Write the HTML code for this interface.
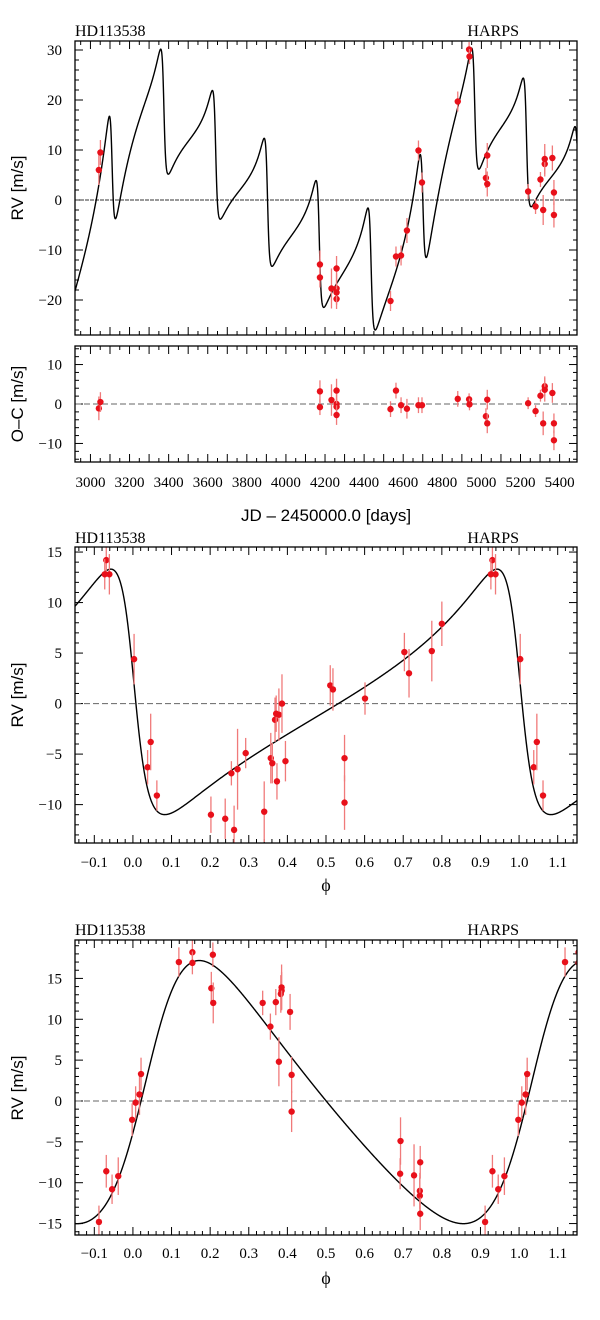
<!DOCTYPE html>
<html><head><meta charset="utf-8"><style>
html,body{margin:0;padding:0;background:#fff;}
svg text{font-family:"Liberation Serif",serif;}
.sans{font-family:"Liberation Sans",sans-serif !important;}
</style></head><body>
<svg id="chart" width="600" height="1315" viewBox="0 0 600 1315" xmlns="http://www.w3.org/2000/svg">
<defs>
<clipPath id="c1"><rect x="75" y="41" width="502" height="294"/></clipPath>
<clipPath id="c2"><rect x="75" y="346" width="502" height="116"/></clipPath>
<clipPath id="c3"><rect x="75" y="547" width="502" height="296"/></clipPath>
<clipPath id="c4"><rect x="75" y="940" width="502" height="295"/></clipPath>
</defs>
</svg>
<script>
// ---- time series data (top panel) ----
const TOP_JD = [3043,3051,4174,4174,4233,4259,4259,4259,4259,4535,4563,4589,4619,4678,4696,4879,4937,4939,5023,5030,5030,5239,5277,5302,5316,5324,5324,5363,5371,5371];
const TOP_RV = [6.0,9.5,-12.9,-15.5,-17.7,-17.7,-13.7,-19.8,-18.5,-20.2,-11.3,-11.1,-6.1,9.9,3.5,19.7,30.1,28.7,4.4,3.2,8.9,1.7,-1.3,4.1,-2.0,7.2,8.2,8.4,-3.0,1.5];
const TOP_ERR = [3,2.5,2.8,2,4,3,2.5,2,2.5,2,2,2,2.5,2,2,2,1.5,1.5,2,2.5,2.5,1.5,1.5,1.5,3,2.5,3,2.5,2.5,2.5];
const RES_OC = [-1.1,0.5,3.2,-0.8,1.0,3.4,0,-0.7,-2.8,-1.3,3.4,-0.3,-1.2,-0.3,-0.3,1.3,1.2,-0.1,-3.1,-4.9,1.1,0.2,-1.8,2.1,-4.9,4.5,3.6,2.8,-4.9,-9.2];
// ---- Keplerian model parameters (planet b, planet c) ----
const PLANET_P = [265, 1657];
const PLANET_K = [12.15, 16.1];
const PLANET_E = [0.61, 0.30];
const PLANET_W_DEG = [81, -77];
const PLANET_TP = [3110, 4764];
const PHASE_T0 = [3110, 4689];
// ---- phase-folded planet b ----
const B_PHASE = [-0.069,-0.073,-0.061,0.003,0.038,0.046,0.062,0.202,0.239,0.255,0.262,0.271,0.292,0.340,0.357,0.361,0.368,0.371,0.373,0.378,0.386,0.395,0.511,0.518,0.548,0.548,0.601,0.703,0.715,0.774,0.800];
const B_RV = [14.2,12.8,12.8,4.4,-6.3,-3.8,-9.1,-11.0,-11.4,-6.9,-12.5,-6.5,-4.9,-10.7,-5.4,-5.9,-1.6,-1.0,-7.7,-1.1,0,-5.7,1.8,1.4,-5.4,-9.8,0.5,5.1,3.0,5.2,7.9];
const B_ERR = [1.5,1.5,2,2.5,1.7,2.8,1.5,1.8,2,1.2,2.4,4,1.5,3,2.5,2,2.2,1.8,1.8,2.6,2.9,2,2,2.1,2.3,2.7,1.6,1.9,2.4,3,2.2];
// ---- phase-folded planet c ----
const C_PHASE = [-0.088,-0.069,-0.054,-0.038,-0.002,0.007,0.017,0.021,0.119,0.154,0.154,0.203,0.207,0.208,0.336,0.356,0.370,0.378,0.383,0.385,0.385,0.407,0.411,0.411,0.692,0.693,0.728,0.743,0.743,0.744,0.744];
const C_RV = [-14.8,-8.6,-10.8,-9.2,-2.3,-0.2,0.8,3.3,17.0,18.2,16.9,13.8,17.9,12.0,12.0,9.1,12.1,4.8,13.1,13.5,13.9,10.9,3.2,-1.3,-8.9,-4.9,-9.1,-11.0,-11.6,-7.5,-13.8];
const C_ERR = [2,2,1.8,2.3,2,2,2.5,2,1.8,1.5,1.4,2,1.5,2.5,1.5,1.6,1.6,3,2.3,2.3,2.8,2.2,2.2,2.5,1.9,2.9,3.8,2.2,2.2,2,2];

const NS = "http://www.w3.org/2000/svg";
const svg = document.getElementById('chart');
function mk(tag, attrs, parent){ const el=document.createElementNS(NS,tag); for(const k in attrs) el.setAttribute(k,attrs[k]); (parent||svg).appendChild(el); return el; }

function kepler(t, i){
  const P=PLANET_P[i], e=PLANET_E[i], K=PLANET_K[i], w=PLANET_W_DEG[i]*Math.PI/180;
  let M = 2*Math.PI*((t-PLANET_TP[i])/P); M = M - 2*Math.PI*Math.floor(M/(2*Math.PI));
  let E = M; for(let k=0;k<40;k++){ E = E - (E - e*Math.sin(E) - M)/(1 - e*Math.cos(E)); }
  const nu = 2*Math.atan2(Math.sqrt(1+e)*Math.sin(E/2), Math.sqrt(1-e)*Math.cos(E/2));
  return K*(Math.cos(nu+w) + e*Math.cos(w));
}

function panel(o){
  const g = mk('g',{});
  
  
  const sx = v => o.x0 + (v-o.xmin)/(o.xmax-o.xmin)*(o.x1-o.x0);
  const sy = v => o.y1 - (v-o.ymin)/(o.ymax-o.ymin)*(o.y1-o.y0);
  const ax = mk('g',{stroke:'#000','stroke-width':1},g);
  
  
  // x ticks
  const nx = Math.round((o.xmax-o.xmin)/o.xminor)+2;
  const xs = Math.ceil(o.xmin/o.xminor-1e-6);
  for(let k=xs;k<xs+nx;k++){
    const v=k*o.xminor; if(v>o.xmax+1e-9) break;
    const maj = Math.abs(v/o.xmajor - Math.round(v/o.xmajor))<1e-6;
    const L = maj?8:4, X=sx(v);
    mk('line',{x1:X,x2:X,y1:o.y1,y2:o.y1-L},ax); mk('line',{x1:X,x2:X,y1:o.y0,y2:o.y0+L},ax);
  }
  const ys = Math.ceil(o.ymin/o.yminor-1e-6);
  for(let k=ys;;k++){
    const v=k*o.yminor; if(v>o.ymax+1e-9) break;
    const maj = Math.abs(v/o.ymajor - Math.round(v/o.ymajor))<1e-6;
    const L = maj?8:4, Y=sy(v);
    mk('line',{x1:o.x0,x2:o.x0+L,y1:Y,y2:Y},ax); mk('line',{x1:o.x1,x2:o.x1-L,y1:Y,y2:Y},ax);
  }
  // y labels
  o.yLabels.forEach(v=>{
    const t=mk('text',{x:62,y:sy(v)+5,'text-anchor':'end','font-size':15},g);
    
    
    t.textContent = v<0? '\u2212'+Math.abs(v) : String(v);
  });
  if(o.xLabels){
    o.xLabels.forEach(v=>{
      const t=mk('text',{x:sx(v),y:o.xLabelY,'text-anchor':'middle','font-size':15},g);
      
      
      const s = o.xFmt? o.xFmt(v) : String(v);
      t.textContent = s;
    });
  }
  // zero line
  const z = mk('line',{x1:o.x0,x2:o.x1,y1:sy(0),y2:sy(0),stroke:o.zeroColor||'#666','stroke-width':1,'stroke-dasharray':o.zeroDash||'6,3'},g);
  
  
  // model
  if(o.model){
    let d='';
    for(let k=0;k<=o.samples;k++){
      const v = o.xmin + (o.xmax-o.xmin)*k/o.samples;
      d += (k?'L':'M')+sx(v).toFixed(2)+','+sy(o.model(v)).toFixed(2);
    }
    const p = mk('path',{d:d,fill:'none',stroke:'#000','stroke-width':1.4,'clip-path':o.clip},g);
    
    
  }
  // points
  const pg = mk('g',{'clip-path':o.clip},g);
  
  
  o.xs.forEach((xv,i)=>{
    const shifts = o.wrap? [-1,0,1] : [0];
    shifts.forEach(s=>{
      const v = xv+s; if(v<o.xmin-0.01||v>o.xmax+0.01) return;
      const X=sx(v), Y=sy(o.ys[i]);
      const eb = mk('line',{x1:X,x2:X,y1:sy(o.ys[i]+o.errs[i]),y2:sy(o.ys[i]-o.errs[i]),stroke:'#f07a7a','stroke-width':1.3},pg);
      
      
      const c = mk('circle',{cx:X,cy:Y,r:3.2,fill:'#e8101a'},pg);
      
      
    });
  });
  const fr = mk('rect',{x:o.x0,y:o.y0,width:o.x1-o.x0,height:o.y1-o.y0,fill:'none',stroke:'#000','stroke-width':1.3},g);
  
  
  // y title
  const yt = mk('text',{x:0,y:0,'text-anchor':'middle','font-size':17,class:'sans',transform:'translate('+(o.yTitleX||23)+','+o.yTitleY+') rotate(-90)'},g);
  
  
  yt.textContent = o.yTitle;
  if(o.title){
    const t1=mk('text',{x:75,y:o.titleY,'font-size':16},g);
    
    
    t1.textContent='HD113538';
    const t2=mk('text',{x:519,y:o.titleY,'text-anchor':'end','font-size':16},g);
    
    
    t2.textContent='HARPS';
  }
}
const phaseFmt = v => { const r=Math.round(v*10)/10; return (r<0?'\u2212':'')+Math.abs(r).toFixed(1); };

panel({name:'rv-time-panel',x0:75,x1:577,y0:41,y1:335,xmin:2921,xmax:5489,ymin:-27,ymax:31.8,
  xminor:50,xmajor:100,yminor:2,ymajor:10,yLabels:[-20,-10,0,10,20,30],
  model:t=>kepler(t,0)+kepler(t,1),samples:3000,clip:'url(#c1)',zeroColor:'#333',zeroDash:'4,1',
  xs:TOP_JD,ys:TOP_RV,errs:TOP_ERR,yTitle:'RV [m/s]',yTitleY:188,title:true,titleY:36});
panel({name:'residuals-panel',x0:75,x1:577,y0:346,y1:462,xmin:2921,xmax:5489,ymin:-14.7,ymax:14.7,
  xminor:50,xmajor:100,yminor:2,ymajor:10,yLabels:[-10,0,10],xLabels:[3000,3200,3400,3600,3800,4000,4200,4400,4600,4800,5000,5200,5400],xLabelY:487,
  clip:'url(#c2)',xs:TOP_JD,ys:RES_OC,errs:TOP_ERR,yTitle:'O\u2013C [m/s]',yTitleY:404});
panel({name:'phase-b-panel',x0:75,x1:577,y0:547,y1:843,xmin:-0.15,xmax:1.15,ymin:-13.8,ymax:15.5,
  xminor:0.02,xmajor:0.1,yminor:1,ymajor:5,yLabels:[-10,-5,0,5,10,15],
  xLabels:[-0.1,0,0.1,0.2,0.3,0.4,0.5,0.6,0.7,0.8,0.9,1.0,1.1],xLabelY:867,xFmt:phaseFmt,wrap:true,
  model:ph=>kepler(PHASE_T0[0]+ph*PLANET_P[0],0),samples:1500,clip:'url(#c3)',
  xs:B_PHASE,ys:B_RV,errs:B_ERR,yTitle:'RV [m/s]',yTitleY:695,title:true,titleY:543});
panel({name:'phase-c-panel',x0:75,x1:577,y0:940,y1:1235,xmin:-0.15,xmax:1.15,ymin:-16.4,ymax:19.7,
  xminor:0.02,xmajor:0.1,yminor:1,ymajor:5,yLabels:[-15,-10,-5,0,5,10,15],
  xLabels:[-0.1,0,0.1,0.2,0.3,0.4,0.5,0.6,0.7,0.8,0.9,1.0,1.1],xLabelY:1258,xFmt:phaseFmt,wrap:true,
  model:ph=>kepler(PHASE_T0[1]+ph*PLANET_P[1],1),samples:1500,clip:'url(#c4)',
  xs:C_PHASE,ys:C_RV,errs:C_ERR,yTitle:'RV [m/s]',yTitleY:1088,title:true,titleY:935});
</script>
<svg width="0" height="0" style="position:absolute"></svg>
<div style="position:absolute;left:0;top:0;width:600px;height:1315px;pointer-events:none">
<svg width="600" height="1315">
<text x="326" y="521" text-anchor="middle" font-size="17" style="font-family:'Liberation Sans',sans-serif">JD – 2450000.0 [days]</text>
<text x="326" y="891" text-anchor="middle" font-size="18" style="font-family:'Liberation Serif',serif">ϕ</text>
<text x="326" y="1284" text-anchor="middle" font-size="18" style="font-family:'Liberation Serif',serif">ϕ</text>
</svg>
</div>
</body></html>
